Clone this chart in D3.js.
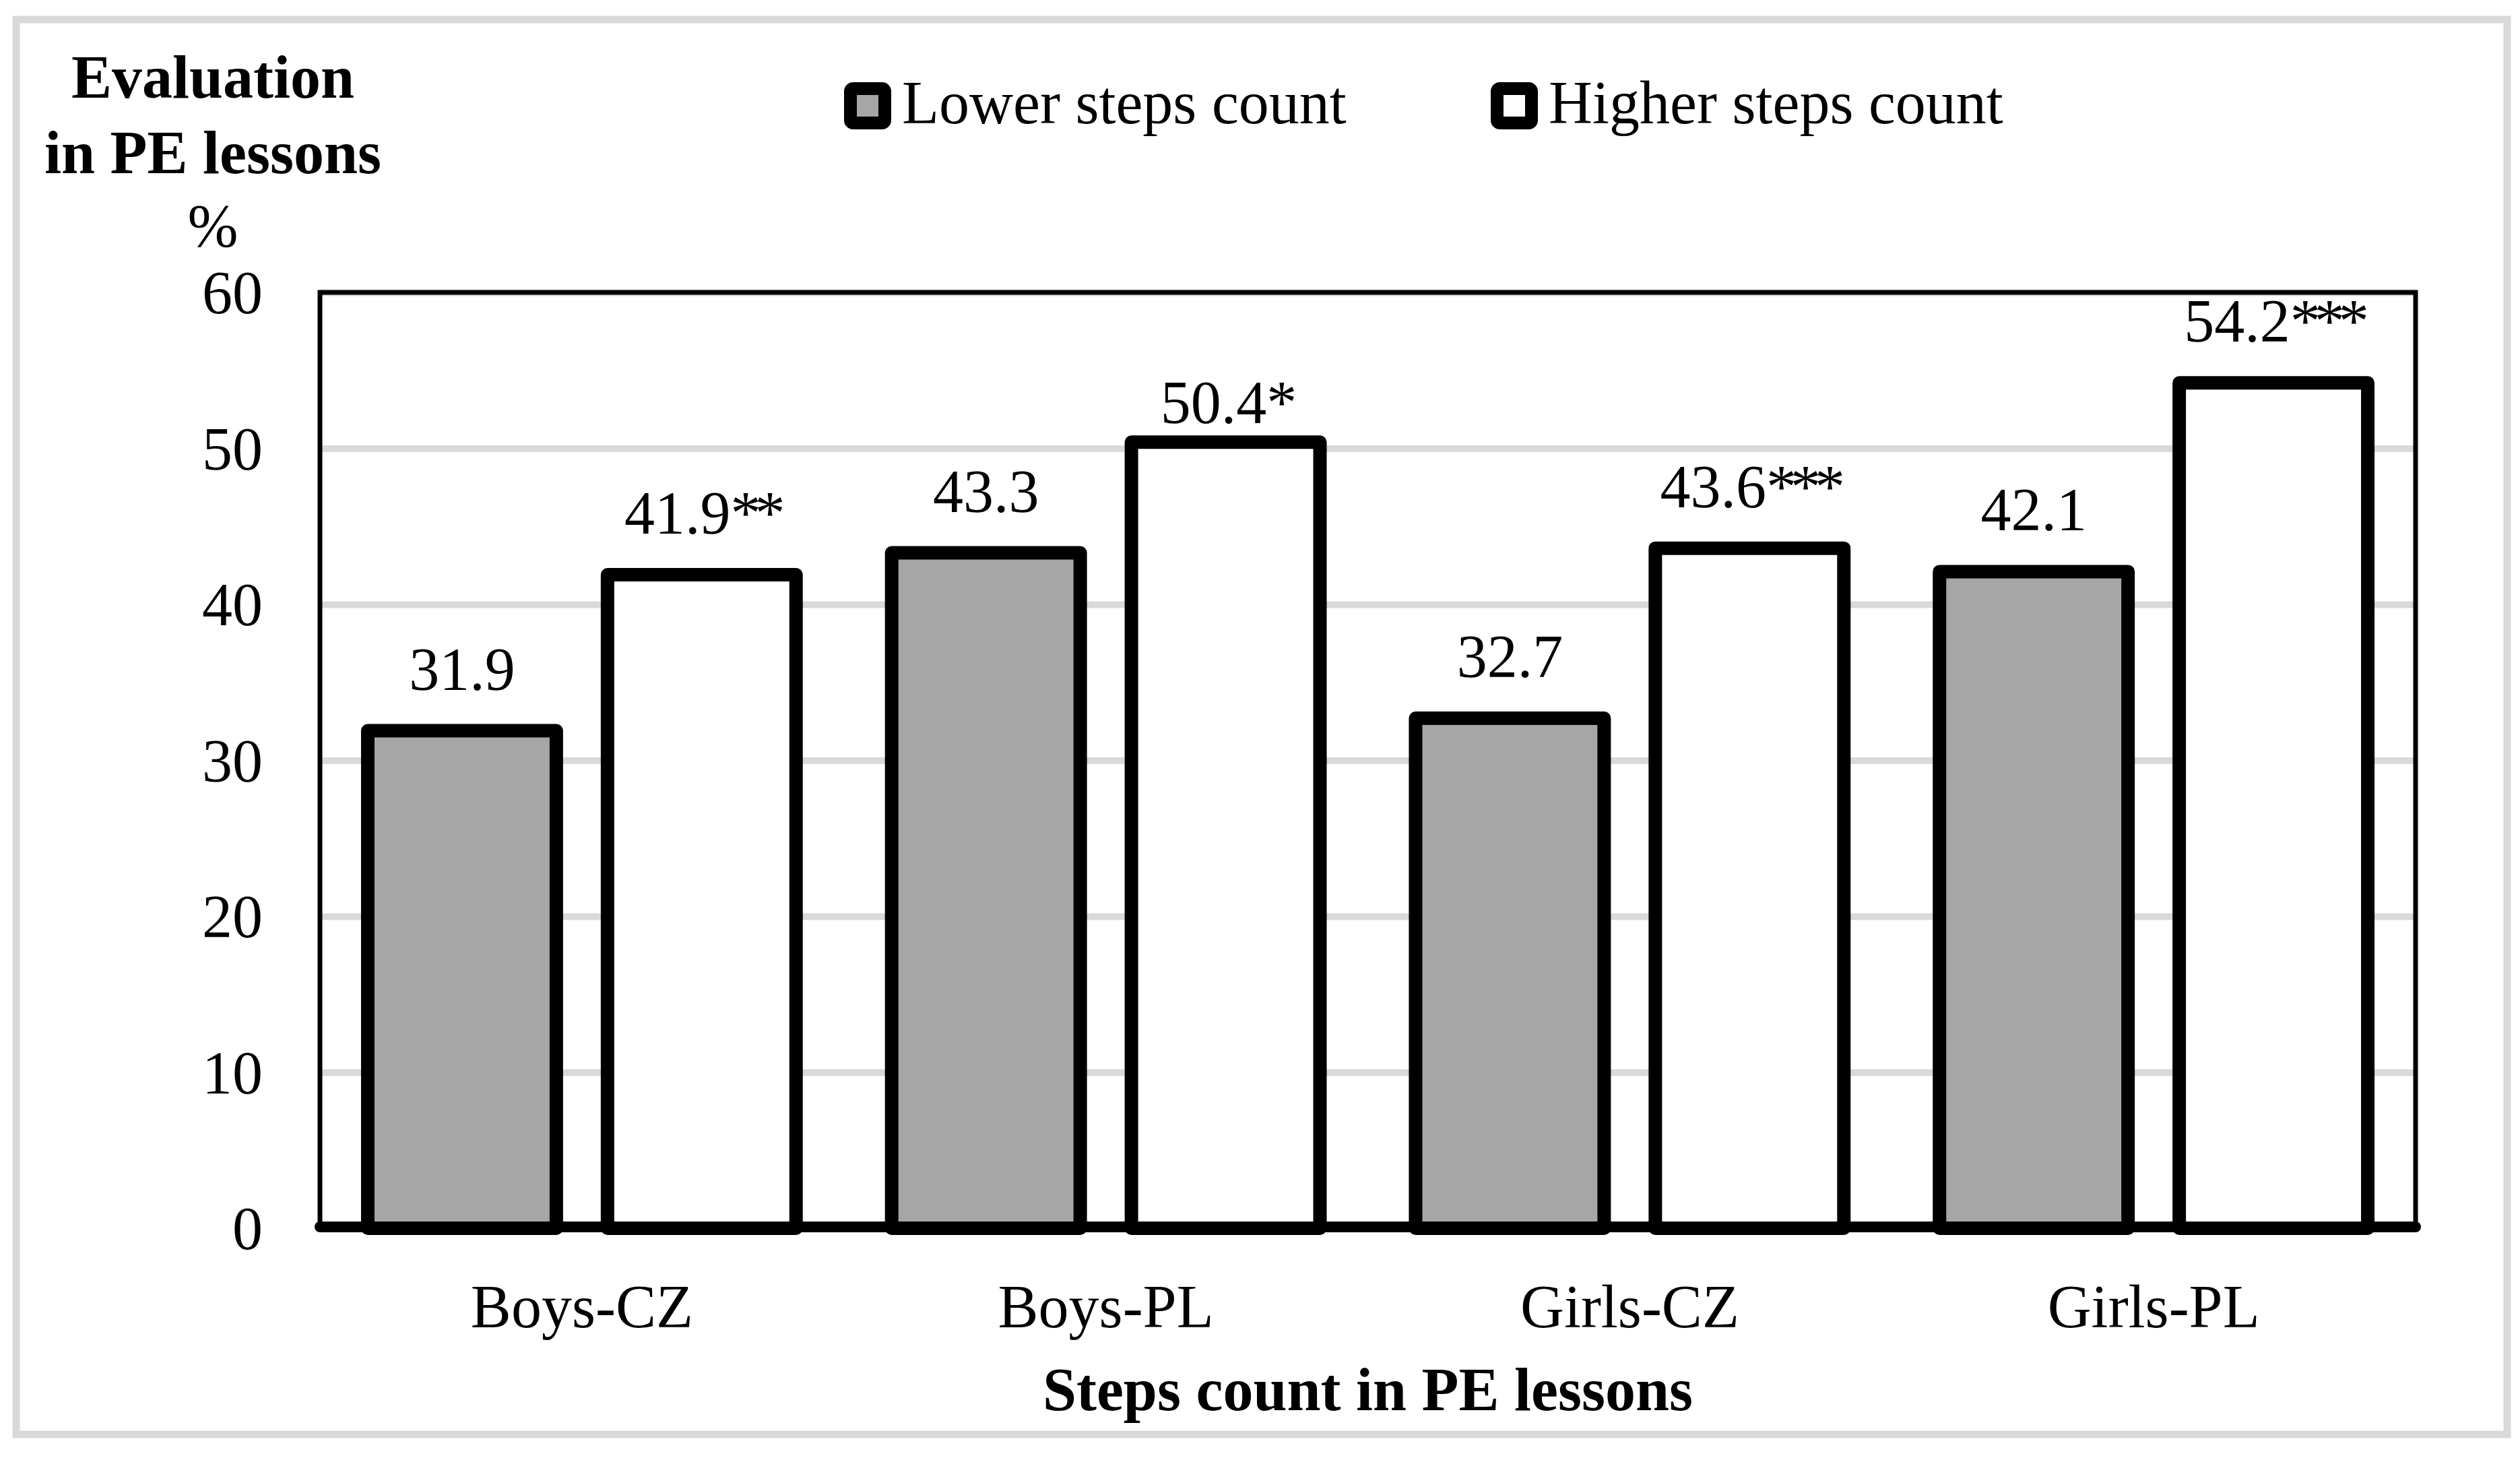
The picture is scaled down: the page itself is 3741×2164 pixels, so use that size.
<!DOCTYPE html>
<html>
<head>
<meta charset="utf-8">
<script src="https://cdn.jsdelivr.net/npm/d3@7"></script>
<style>
  body { margin: 0; background: #fff; }
  text { font-family: "Liberation Serif", "DejaVu Serif", serif; fill: #000; }
</style>
</head>
<body>
<svg id="chart" width="3741" height="2164"></svg>
<script>
// Evaluation in PE lessons by steps count

var categories = ["Boys-CZ", "Boys-PL", "Girls-CZ", "Girls-PL"];
var seriesNames = ["Lower steps count", "Higher steps count"];
var lowerSteps = [31.9, 43.3, 32.7, 42.1];
var higherSteps = [41.9, 50.4, 43.6, 54.2];
var higherSig = ["**", "*", "***", "***"];
var yTicks = [0, 10, 20, 30, 40, 50, 60];

var W = 3741, H = 2164;
var plot = { left: 475, right: 3586, top: 434, bottom: 1823 };
var fontSize = 90;
var labelGap = 61;
// the 50.4* label sits closer to its bar in the original
var higherLabelGap = [61, 28, 61, 61];

var svg = d3.select("#chart");

svg.append("rect")
  .attr("width", W).attr("height", H).attr("fill", "#fff");

// outer grey frame
svg.append("rect")
  .attr("x", 24).attr("y", 29)
  .attr("width", 3698).attr("height", 2100)
  .attr("fill", "none").attr("stroke", "#d9d9d9").attr("stroke-width", 11);

var y = d3.scaleLinear().domain([0, 60]).range([plot.bottom, plot.top]);

var x0 = d3.scaleBand().domain(categories)
  .range([plot.left, plot.right])
  .paddingInner(0.1825).paddingOuter(0.09125);

var x1 = d3.scaleBand().domain(seriesNames)
  .range([0, x0.bandwidth()])
  .paddingInner(0.2135).paddingOuter(0);

var fills = d3.scaleOrdinal().domain(seriesNames).range(["#a6a6a6", "#ffffff"]);

// gridlines
svg.append("g")
  .attr("transform", "translate(" + plot.left + ",0)")
  .call(d3.axisLeft(y).tickValues(yTicks.slice(1)).tickSize(-(plot.right - plot.left)).tickFormat(""))
  .call(function (g) {
    g.select(".domain").remove();
    g.selectAll(".tick line").attr("stroke", "#d9d9d9").attr("stroke-width", 10);
  });

// plot frame
svg.append("rect")
  .attr("x", plot.left).attr("y", plot.top)
  .attr("width", plot.right - plot.left).attr("height", plot.bottom - plot.top)
  .attr("fill", "none").attr("stroke", "#000").attr("stroke-width", 7);

// y tick labels
svg.append("g")
  .attr("transform", "translate(" + (plot.left - 85) + ",0)")
  .call(d3.axisLeft(y).tickValues(yTicks).tickSize(0).tickPadding(0))
  .call(function (g) {
    g.select(".domain").remove();
    g.selectAll(".tick text")
      .attr("font-size", fontSize)
      .attr("font-family", "Liberation Serif, serif")
      .attr("dy", "0.34em");
  });

// bars
var rows = categories.map(function (c, i) {
  return [
    { cat: c, series: seriesNames[0], value: lowerSteps[i], sig: "", gap: labelGap },
    { cat: c, series: seriesNames[1], value: higherSteps[i], sig: higherSig[i], gap: higherLabelGap[i] }
  ];
});

var groups = svg.append("g").selectAll("g")
  .data(rows).enter().append("g")
  .attr("transform", function (d) { return "translate(" + x0(d[0].cat) + ",0)"; });

groups.selectAll("rect")
  .data(function (d) { return d; }).enter().append("rect")
  .attr("x", function (d) { return x1(d.series); })
  .attr("y", function (d) { return y(d.value); })
  .attr("width", x1.bandwidth())
  .attr("height", function (d) { return y(0) - y(d.value); })
  .attr("fill", function (d) { return fills(d.series); })
  .attr("stroke", "#000").attr("stroke-width", 20)
  .attr("stroke-linejoin", "round");

var labels = groups.selectAll("text")
  .data(function (d) { return d; }).enter().append("text")
  .attr("x", function (d) { return x1(d.series) + x1.bandwidth() / 2; })
  .attr("y", function (d) { return y(d.value) - d.gap; })
  .attr("text-anchor", "middle")
  .attr("font-size", fontSize);

labels.append("tspan").text(function (d) { return d.value.toFixed(1); });
labels.append("tspan")
  .attr("letter-spacing", -9)
  .text(function (d) { return d.sig; });

// x axis line
svg.append("line")
  .attr("x1", plot.left).attr("x2", plot.right)
  .attr("y1", plot.bottom - 2).attr("y2", plot.bottom - 2)
  .attr("stroke", "#000").attr("stroke-width", 16).attr("stroke-linecap", "round");

// category labels
svg.append("g")
  .attr("transform", "translate(0," + plot.bottom + ")")
  .call(d3.axisBottom(x0).tickSize(0).tickPadding(0))
  .call(function (g) {
    g.select(".domain").remove();
    g.selectAll(".tick text")
      .attr("font-size", fontSize)
      .attr("font-family", "Liberation Serif, serif")
      .attr("dy", 0).attr("y", 147);
  });

// axis titles
svg.append("text")
  .attr("x", (plot.left + plot.right) / 2).attr("y", 2093)
  .attr("text-anchor", "middle").attr("font-size", fontSize).attr("font-weight", "bold")
  .text("Steps count in PE lessons");

var yTitle = svg.append("text").attr("text-anchor", "middle").attr("font-size", fontSize);
yTitle.append("tspan").attr("x", 316).attr("y", 145).attr("font-weight", "bold").text("Evaluation");
yTitle.append("tspan").attr("x", 316).attr("y", 257).attr("font-weight", "bold").text("in PE lessons");
yTitle.append("tspan").attr("x", 316).attr("y", 366).text("%");

// legend
var legendX = [1253, 2213];
var legend = svg.append("g").selectAll("g")
  .data(seriesNames).enter().append("g")
  .attr("transform", function (d, i) { return "translate(" + legendX[i] + ",122)"; });

legend.append("rect")
  .attr("x", 9.5).attr("y", 9.5).attr("width", 51).attr("height", 51)
  .attr("rx", 4)
  .attr("fill", function (d) { return fills(d); })
  .attr("stroke", "#000").attr("stroke-width", 19).attr("stroke-linejoin", "round");

legend.append("text")
  .attr("x", 86).attr("y", 61)
  .attr("font-size", fontSize)
  .text(function (d) { return d; });
</script>
</body>
</html>
